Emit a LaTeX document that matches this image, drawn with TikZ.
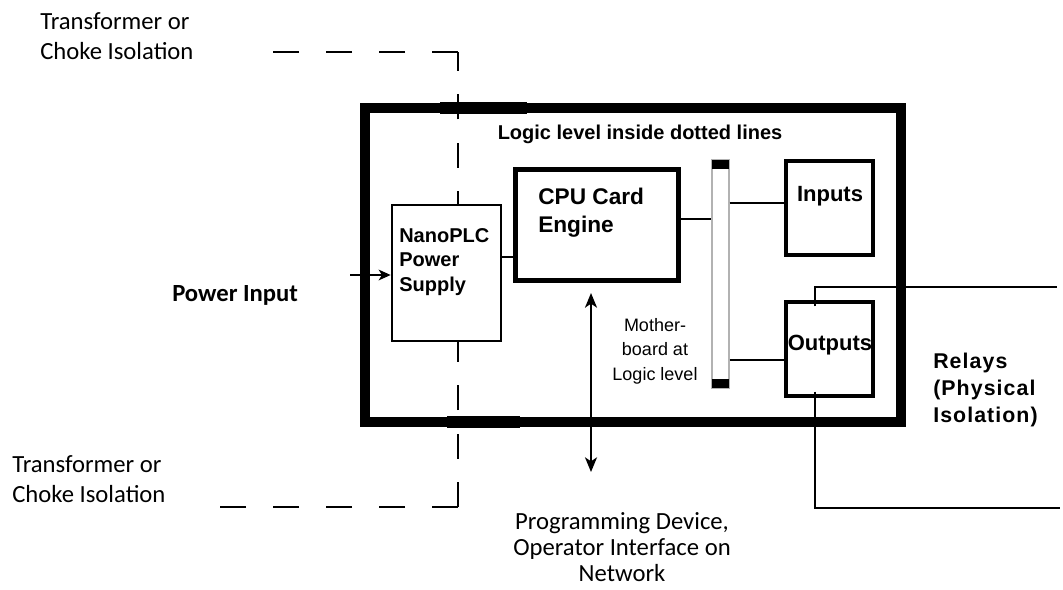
\documentclass[tikz,border=0pt]{standalone}
\usepackage{fontspec}
\setmainfont{Liberation Sans}
\newfontfamily\calib{Carlito}
\newfontfamily\relayfont{Liberation Sans}[LetterSpace=5]
\usetikzlibrary{arrows.meta}
\tikzset{
  frame/.style={draw, line width=7.5pt, inner sep=0pt},
  isol/.style={line width=1.8pt},
  hdash/.style={isol, dash pattern=on 19.5pt off 20.25pt},
  vdash/.style={isol, dash pattern=on 18.75pt off 17.6pt},
  wire/.style={line width=1.5pt},
  boxshape/.style={draw, fill=white, inner sep=0pt, line width=2pt},
  boldtxt/.style={font=\bfseries, inner sep=0pt},
  plaintxt/.style={font=\calib\fontsize{18.5}{22}\selectfont, inner sep=0pt, align=left},
  tip/.style={-{Stealth[length=9pt,width=8pt,inset=2.5pt]}},
  dtip/.style={{Stealth[length=11pt,width=9pt,inset=3pt]}-{Stealth[length=11pt,width=9pt,inset=3pt]}}
}
\begin{document}
\begin{tikzpicture}[x=0.75pt,y=-0.75pt]
\useasboundingbox[fill=white] (0,0) rectangle (1063,589);

% main frame
\node[frame, minimum width=402pt, minimum height=235.5pt] (frame) at (633,265) {};
\draw[line width=8.6pt] (440,108) -- (527,108);
\draw[line width=8.6pt] (447,422) -- (520,422);

% isolation dashed line
\coordinate (c1) at (458,52);
\coordinate (c2) at (458,507);
\coordinate (t1) at (270,52);
\coordinate (b1) at (217,507);
\draw[hdash] (c1) -- (t1);
\draw[vdash] (c2) -- (c1);
\draw[hdash] (c2) -- (b1);

% boxes
\node[boxshape, minimum width=81.75pt, minimum height=102pt] (ps) at (446.5,273) {};
\node[boxshape, line width=3.75pt, minimum width=122.25pt, minimum height=83.25pt] (cpu) at (596.5,224.5) {};
\node[draw=gray!60, fill=white, line width=1pt, inner sep=0pt, minimum width=12.75pt, minimum height=171pt] (mb) at (720.5,274) {};
\fill (712,160) rectangle (729,169);
\fill (712,379) rectangle (729,388);
\node[boxshape, line width=2.5pt, minimum width=65.25pt, minimum height=70.5pt] (inputs) at (829.5,208) {};
\node[boxshape, line width=2.5pt, minimum width=65.25pt, minimum height=70.5pt] (outputs) at (829.5,349) {};

% texts
\node[boldtxt, font=\bfseries\fontsize{15}{18}\selectfont] (logic) at (640,134) {Logic level inside dotted lines};
\node[boldtxt, font=\bfseries\fontsize{17}{21}\selectfont, align=left, anchor=west] (cputxt) at (538,213) {CPU Card\\Engine};
\node[boldtxt, font=\bfseries\fontsize{15}{18.5}\selectfont, align=left, anchor=west] (pstxt) at (399,262) {NanoPLC\\Power\\Supply};
\node[boldtxt, font=\bfseries\fontsize{16.5}{20}\selectfont] (intxt) at (830,196) {Inputs};
\node[boldtxt, font=\bfseries\fontsize{16.5}{20}\selectfont] (outtxt) at (830,345) {Outputs};
\node[inner sep=0pt, font=\fontsize{13.5}{18.4}\selectfont, align=center] (mbtxt) at (655,351) {Mother-\\board at\\Logic level};
\node[inner sep=0pt, font=\relayfont\bfseries\fontsize{16}{20}\selectfont, align=left, anchor=west] (relays) at (933,390) {Relays\\(Physical\\Isolation)};
\node[inner sep=0pt, font=\calib\bfseries\fontsize{18.5}{22}\selectfont, anchor=west] (pwr) at (172,295) {Power Input};
\node[plaintxt, font=\calib\fontsize{18.5}{19.5}\selectfont, align=center] (prog) at (622,547) {Programming Device,\\Operator Interface on\\Network};
\node[plaintxt, anchor=west] (tr1) at (40,36) {Transformer or\\Choke Isolation};
\node[plaintxt, anchor=west] (tr2) at (12,479) {Transformer or\\Choke Isolation};

% connectors
\coordinate (pin) at (350,275);
\draw[wire, tip] (pin) -- (pin -| ps.west);
\draw[wire] ([yshift=12pt]ps.east) -- ([yshift=12pt]ps.east -| cpu.west);
\draw[wire] ([yshift=4pt]cpu.east) -- ([yshift=4pt]cpu.east -| mb.west);
\draw[wire] ([yshift=3.75pt]inputs.west -| mb.east) -- ([yshift=3.75pt]inputs.west);
\draw[wire] ([yshift=-8.25pt]outputs.west -| mb.east) -- ([yshift=-8.25pt]outputs.west);
\coordinate (ntop) at (591,293);
\coordinate (nbot) at (591,472);
\draw[wire, dtip] (ntop) -- (nbot);
\coordinate (r1) at (1057,287);
\coordinate (r2) at (1060,508);
\draw[wire] ([xshift=-10.9pt,yshift=-4.5pt]outputs.north) |- (r1);
\draw[wire] ([xshift=-10.9pt,yshift=4.5pt]outputs.south) |- (r2);
\end{tikzpicture}
\end{document}
